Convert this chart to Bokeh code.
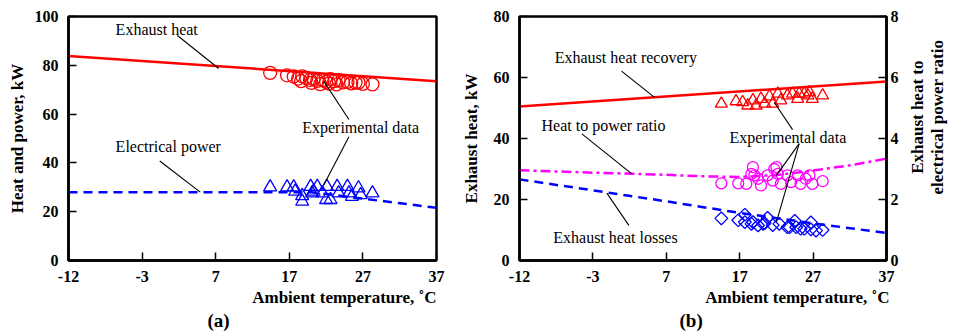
from bokeh.plotting import figure
from bokeh.layouts import row
from bokeh.models import Range1d, LinearAxis, FixedTicker, Label, Title
from bokeh.embed import file_html
from bokeh.resources import INLINE
import math

# ---------------- data ----------------
X_TICKS = [-13, -3, 7, 17, 27, 37]
X_TICK_LABELS = ["-12", "-3", "7", "17", "27", "37"]

# Panel (a): model curves
A_HEAT_T = [-13, 37]
A_HEAT = [83.8, 73.5]
A_POWER_T = [-13, 20, 37]
A_POWER = [28.0, 28.0, 21.6]

# Panel (a): experimental exhaust heat (circles)
A_EXP_HEAT_T = [14.4, 16.7, 17.6, 18.2, 18.75, 19.3, 19.8, 20.3, 20.8, 21.5, 22.0, 22.6, 23.1,
                23.7, 24.3, 24.9, 25.4, 26.0, 26.4, 27.0, 28.3, 18.6, 20.0, 21.2, 22.4, 23.4]
A_EXP_HEAT = [76.9, 75.9, 75.4, 74.5, 75.5, 74.8, 74.0, 74.4, 73.6, 73.9, 73.2, 74.3, 73.5,
              73.9, 73.0, 73.2, 72.6, 72.9, 72.9, 72.4, 72.2, 73.5, 72.8, 72.3, 72.5, 72.2]

# Panel (a): experimental electrical power (triangles)
A_EXP_POWER_T = [14.4, 16.7, 17.6, 17.8, 18.75, 18.75, 19.9, 20.3, 20.8, 21.5, 22.0, 22.1,
                 22.6, 23.5, 23.7, 24.9, 25.1, 26.4, 26.7, 28.3, 20.1, 25.5]
A_EXP_POWER = [30.1, 30.1, 30.1, 28.3, 26.5, 24.2, 30.3, 28.3, 30.3, 27.6, 24.9, 30.3,
               24.9, 30.3, 27.6, 30.3, 27.6, 29.7, 26.9, 27.6, 27.6, 26.2]

# Panel (b): model curves
B_REC_T = [-13, 37]
B_REC = [50.5, 58.7]
B_RATIO_T = [-13, -3, 7, 12, 17, 22, 27, 32, 37]
B_RATIO = [2.96, 2.88, 2.81, 2.76, 2.74, 2.80, 2.95, 3.12, 3.34]
B_LOSS_T = [-13, -3, 7, 17, 27, 37]
B_LOSS = [26.6, 23.0, 19.4, 15.6, 12.2, 9.0]

# Panel (b): experimental heat recovery (triangles)
B_EXP_REC_T = [14.5, 16.5, 17.4, 18.1, 18.8, 19.25, 19.9, 20.4, 21.05, 21.5, 22.2, 22.6,
               23.5, 24.2, 24.9, 25.8, 26.3, 26.9, 28.3, 26.5, 25.1]
B_EXP_REC = [51.4, 52.2, 51.9, 50.8, 52.5, 50.8, 53.0, 51.4, 53.8, 51.4, 54.7, 52.5,
             54.1, 54.7, 53.0, 54.7, 54.1, 53.0, 54.1, 55.2, 54.7]

# Panel (b): experimental heat to power ratio (circles)
B_EXP_RATIO_T = [14.5, 16.8, 17.9, 18.6, 18.8, 19.5, 19.9, 20.8, 21.5, 22.0, 22.2, 22.6,
                 23.5, 24.0, 24.9, 25.3, 26.0, 26.5, 26.9, 28.3, 21.7, 19.0]
B_EXP_RATIO = [2.53, 2.53, 2.51, 2.84, 3.06, 2.68, 2.46, 2.79, 2.62, 3.06, 2.84, 2.51,
               2.79, 2.57, 2.79, 2.51, 2.68, 2.79, 2.51, 2.60, 3.00, 2.79]

# Panel (b): experimental exhaust heat losses (diamonds)
B_EXP_LOSS_T = [14.5, 16.8, 17.7, 18.6, 19.5, 20.4, 21.5, 22.4, 23.5, 24.7, 25.8, 26.7,
                27.4, 18.8, 20.2, 23.8, 25.3, 28.3, 17.7, 20.8, 24.5, 26.7]
B_EXP_LOSS = [13.8, 13.2, 12.6, 12.0, 11.5, 12.2, 11.6, 12.0, 10.9, 10.9, 10.4, 10.2,
              9.8, 12.6, 12.0, 10.9, 10.4, 10.0, 15.0, 14.0, 13.0, 12.5]

X_TITLE = "Ambient temperature, \u02daC"
RIGHT_TITLE = ["Exhaust heat to", "electrical power ratio"]

# ---------------- styling helpers ----------------
SERIF = "Liberation Serif"
RED, BLUE, MAGENTA = "#ff0000", "#0000ff", "#ff00ff"


def style_axis(ax, standoff, label="", label_standoff=0):
    ax.axis_line_color = "black"
    ax.axis_line_width = 2.5
    ax.major_tick_in = 8
    ax.major_tick_out = 0
    ax.major_tick_line_color = "black"
    ax.major_tick_line_width = 1.5
    ax.minor_tick_line_color = None
    ax.major_label_text_font = SERIF
    ax.major_label_text_font_style = "bold"
    ax.major_label_text_font_size = "16px"
    ax.major_label_text_color = "black"
    ax.major_label_standoff = standoff
    ax.axis_label = label
    ax.axis_label_standoff = label_standoff
    ax.axis_label_text_font = SERIF
    ax.axis_label_text_font_style = "bold"
    ax.axis_label_text_font_size = "17px"
    ax.axis_label_text_color = "black"


def base_fig(width, left, right, bottom, y_end, y_ticks, ylabel, ylabel_standoff,
             caption, caption_offset, xtitle_offset):
    p = figure(width=width, height=332, output_backend="svg", toolbar_location=None,
               x_range=Range1d(-13, 37), y_range=Range1d(0, y_end),
               min_border_left=left, min_border_right=right,
               min_border_top=16, min_border_bottom=bottom)
    p.xgrid.visible = False
    p.ygrid.visible = False
    p.outline_line_color = "black"
    p.outline_line_width = 2.5
    p.outline_line_alpha = 1.0
    p.background_fill_color = "white"
    p.border_fill_color = "white"
    p.xaxis.ticker = FixedTicker(ticks=X_TICKS)
    p.xaxis.major_label_overrides = {t: s for t, s in zip(X_TICKS, X_TICK_LABELS)}
    p.yaxis.ticker = FixedTicker(ticks=y_ticks)
    style_axis(p.xaxis[0], 10)
    style_axis(p.yaxis[0], 10, ylabel, ylabel_standoff)
    p.add_layout(Title(text=X_TITLE, align="right", offset=xtitle_offset, standoff=2,
                       text_font=SERIF, text_font_size="17px", text_font_style="bold",
                       text_color="black"), "below")
    p.add_layout(Title(text=caption, align="left", offset=caption_offset, standoff=0,
                       text_font=SERIF, text_font_size="19px", text_font_style="bold",
                       text_color="black"), "below")
    return p


def txt(p, x, y, text):
    p.add_layout(Label(x=x, y=y, text=text, text_font=SERIF, text_font_size="16px",
                       text_align="left", text_baseline="middle", text_color="black"))


def leader(p, x0, y0, x1, y1):
    p.line([x0, x1], [y0, y1], line_color="black", line_width=1.1)


# ---------------- panel (a) ----------------
pa = base_fig(458, 68, 22, 71, 100, [0, 20, 40, 60, 80, 100],
              "Heat and power, kW", 5, "(a)", 139, 0)

pa.line(A_HEAT_T, A_HEAT, line_color=RED, line_width=2.5)
pa.line(A_POWER_T, A_POWER, line_color=BLUE, line_width=2.5, line_dash="9 6")
pa.scatter(A_EXP_HEAT_T, A_EXP_HEAT, marker="circle", size=13, fill_color=None,
           line_color=RED, line_width=1.3)
pa.scatter(A_EXP_POWER_T, A_EXP_POWER, marker="triangle", size=13, fill_color=None,
           line_color=BLUE, line_width=1.3)

txt(pa, -6.6, 94.7, "Exhaust heat")
leader(pa, 1.8, 92.2, 7.4, 78.7)
txt(pa, 18.75, 54.4, "Experimental data")
leader(pa, 25.1, 57.8, 21.7, 73.4)
leader(pa, 25.1, 50.7, 21.7, 31.0)
txt(pa, -6.6, 46.7, "Electrical power")
leader(pa, -0.6, 40.8, 4.9, 28.0)

# ---------------- panel (b) ----------------
pb = base_fig(447, 59, 19, 72, 80, [0, 20, 40, 60, 80],
              "Exhaust heat, kW", 10, "(b)", 160, -3)
pb.extra_y_ranges = {"ratio": Range1d(0, 8)}
rax = LinearAxis(y_range_name="ratio", ticker=FixedTicker(ticks=[0, 2, 4, 6, 8]))
style_axis(rax, 4)
pb.add_layout(rax, "right")

pb.line(B_REC_T, B_REC, line_color=RED, line_width=2.5)
pb.line(B_RATIO_T, B_RATIO, line_color=MAGENTA, line_width=2.5, line_dash="10 4 3 4",
        y_range_name="ratio")
pb.line(B_LOSS_T, B_LOSS, line_color=BLUE, line_width=2.5, line_dash="9 6")
pb.scatter(B_EXP_REC_T, B_EXP_REC, marker="triangle", size=12, fill_color=None,
           line_color=RED, line_width=1.3)
pb.scatter(B_EXP_RATIO_T, B_EXP_RATIO, marker="circle", size=11, fill_color=None,
           line_color=MAGENTA, line_width=1.3, y_range_name="ratio")
pb.scatter(B_EXP_LOSS_T, B_EXP_LOSS, marker="square", angle=math.pi / 4, size=9,
           fill_color=None, line_color=BLUE, line_width=1.3)

txt(pb, -8.2, 66.5, "Exhaust heat recovery")
leader(pb, 0.9, 62.1, 5.4, 53.5)
txt(pb, -10.0, 44.3, "Heat to power ratio")
leader(pb, -4.5, 41.5, 2.3, 28.4)
txt(pb, 15.6, 40.4, "Experimental data")
leader(pb, 24.2, 42.9, 21.7, 51.9)
leader(pb, 25.1, 38.3, 22.0, 27.9)
leader(pb, 25.1, 38.3, 22.0, 12.6)
txt(pb, -8.4, 7.6, "Exhaust heat losses")
leader(pb, 1.9, 11.5, -1.1, 22.1)

# ---------------- right-axis title strip ----------------
pc = figure(width=51, height=332, output_backend="svg", toolbar_location=None,
            x_range=Range1d(0, 51), y_range=Range1d(0, 332),
            min_border=0, min_border_left=0, min_border_right=0,
            min_border_top=0, min_border_bottom=0)
pc.axis.visible = False
pc.xgrid.visible = False
pc.ygrid.visible = False
pc.outline_line_color = None
pc.background_fill_color = "white"
pc.border_fill_color = "white"
for xpos, line_text in zip([11.7, 32.3], RIGHT_TITLE):
    pc.add_layout(Label(x=xpos, y=195, text=line_text, angle=math.pi / 2,
                        text_font=SERIF, text_font_size="17px", text_font_style="bold",
                        text_align="center", text_baseline="middle", text_color="black"))

layout = row(pa, pb, pc, spacing=0)
open("out.html", "w").write(file_html(layout, INLINE))
